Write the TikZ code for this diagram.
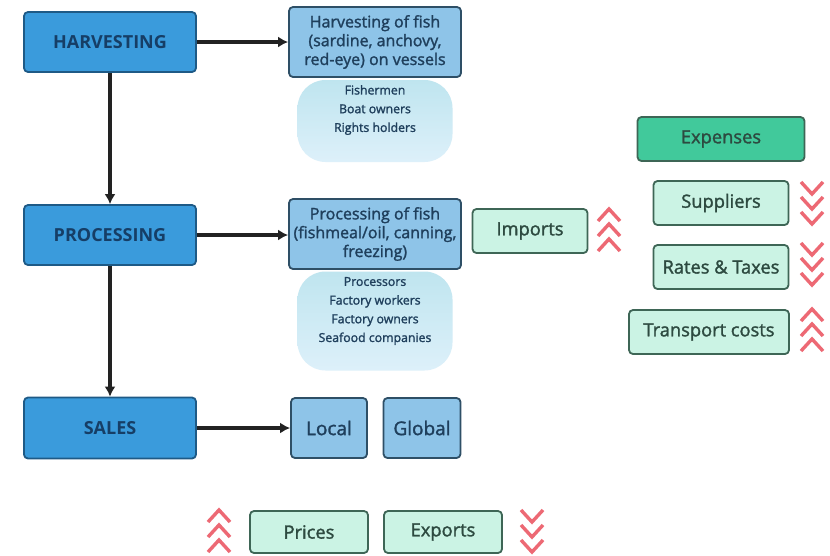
\documentclass[tikz,border=0pt]{standalone}
\usepackage{fontspec}
\setmainfont{Open Sans}
\newfontfamily\semib{Open Sans}[FakeBold=1.6]
\usetikzlibrary{arrows.meta}
\definecolor{mainfill}{HTML}{3A9BDC}
\definecolor{mainedge}{HTML}{1E5A86}
\definecolor{maintext}{HTML}{163E66}
\definecolor{subfill}{HTML}{8EC4E8}
\definecolor{subedge}{HTML}{2E4F66}
\definecolor{subtext}{HTML}{1F3F5C}
\definecolor{blobtop}{HTML}{BFE5EF}
\definecolor{blobbot}{HTML}{DDF0FA}
\definecolor{greenfill}{HTML}{CBF3E4}
\definecolor{greenedge}{HTML}{3E6656}
\definecolor{greentext}{HTML}{2D4A40}
\definecolor{expfill}{HTML}{41C99B}
\definecolor{chev}{HTML}{EA4F5C}
\definecolor{arrowcol}{HTML}{222222}
\tikzset{
  mainbox/.style={draw=mainedge, line width=1.8pt, fill=mainfill, rounded corners=4pt,
    text=maintext, font=\fontsize{18}{20}\selectfont\bfseries, align=center},
  subbox/.style={draw=subedge, line width=1.8pt, fill=subfill, rounded corners=4pt,
    text=subtext, font=\semib\fontsize{16}{18.8}\selectfont, align=center},
  blob/.style={rounded corners=28pt, top color=blobtop, bottom color=blobbot, draw=none},
  blobtext/.style={text=subtext, font=\semib\fontsize{12.3}{18.7}\selectfont, align=center},
  greenbox/.style={draw=greenedge, line width=1.8pt, fill=greenfill, rounded corners=4pt,
    text=greentext, font=\semib\fontsize{18.3}{20}\selectfont},
  flow/.style={draw=arrowcol, line width=3.4pt, -{Latex[length=10pt,width=11pt]}},
  chevline/.style={draw=chev, line width=3.4pt, opacity=0.85}
}
\newcommand{\chevup}[2]{%
  \foreach \k in {-15,0,15}{%
    \draw[chevline] (#1-11,#2+\k+6) -- (#1,#2+\k-6) -- (#1+11,#2+\k+6);}}
\newcommand{\chevdown}[2]{%
  \foreach \k in {-15,0,15}{%
    \draw[chevline] (#1-11,#2+\k-6) -- (#1,#2+\k+6) -- (#1+11,#2+\k-6);}}
\begin{document}
\begin{tikzpicture}[x=1pt,y=-1pt]
\useasboundingbox (0,0) rectangle (830,555);
\fill[white] (0,0) rectangle (830,555);

% main column
\node[mainbox, minimum width=172pt, minimum height=60pt] (harv) at (110,42) {HARVESTING};
\node[mainbox, minimum width=172pt, minimum height=60pt] (proc) at (110,235) {PROCESSING};
\node[mainbox, minimum width=172pt, minimum height=61pt] (sales) at (110,428) {SALES};

% detail column
\node[subbox, minimum width=172pt, minimum height=70pt] (hf) at (375,42)
  {Harvesting of fish\\(sardine, anchovy,\\red-eye) on vessels};
\node[blob, minimum width=155pt, minimum height=82pt] (blob1) at (375,121) {};
\node[blobtext] (blob1t) at (375,110) {Fishermen\\Boat owners\\Rights holders};
\node[subbox, minimum width=172pt, minimum height=70pt] (pf) at (375,234)
  {Processing of fish\\(fishmeal/oil, canning,\\freezing)};
\node[blob, minimum width=155pt, minimum height=99pt] (blob2) at (375,321) {};
\node[blobtext] (blob2t) at (375,311) {Processors\\Factory workers\\Factory owners\\Seafood companies};
\node[subbox, font=\semib\fontsize{19}{21}\selectfont, minimum width=76pt, minimum height=60pt] (local) at (329,428) {Local};
\node[subbox, font=\semib\fontsize{19}{21}\selectfont, minimum width=77pt, minimum height=60pt] (global) at (422,428) {Global};

% green boxes
\node[greenbox, minimum width=115pt, minimum height=44pt] (imports) at (530,231) {Imports};
\node[greenbox, fill=expfill, minimum width=167pt, minimum height=44pt] (expenses) at (721,139) {Expenses};
\node[greenbox, minimum width=135pt, minimum height=44pt] (suppliers) at (721,203) {Suppliers};
\node[greenbox, minimum width=135pt, minimum height=44pt] (rates) at (721,267) {Rates \& Taxes};
\node[greenbox, minimum width=160pt, minimum height=44pt] (transport) at (709,332) {Transport costs};
\node[greenbox, minimum width=118pt, minimum height=42pt] (prices) at (309,532) {Prices};
\node[greenbox, minimum width=118pt, minimum height=42pt] (exports) at (443,532) {Exports};

% connectors
\draw[flow] (harv.east) -- (hf.west |- harv.east);
\draw[flow] (proc.east) -- (pf.west |- proc.east);
\draw[flow] (sales.east) -- (local.west |- sales.east);
\draw[flow] (harv.south) -- (proc.north);
\draw[flow] (proc.south) -- (sales.north);

% chevrons
\chevup{609}{230}
\chevdown{812}{203}
\chevdown{812}{264}
\chevup{812}{330}
\chevup{219}{531}
\chevdown{532}{531}
\end{tikzpicture}
\end{document}
